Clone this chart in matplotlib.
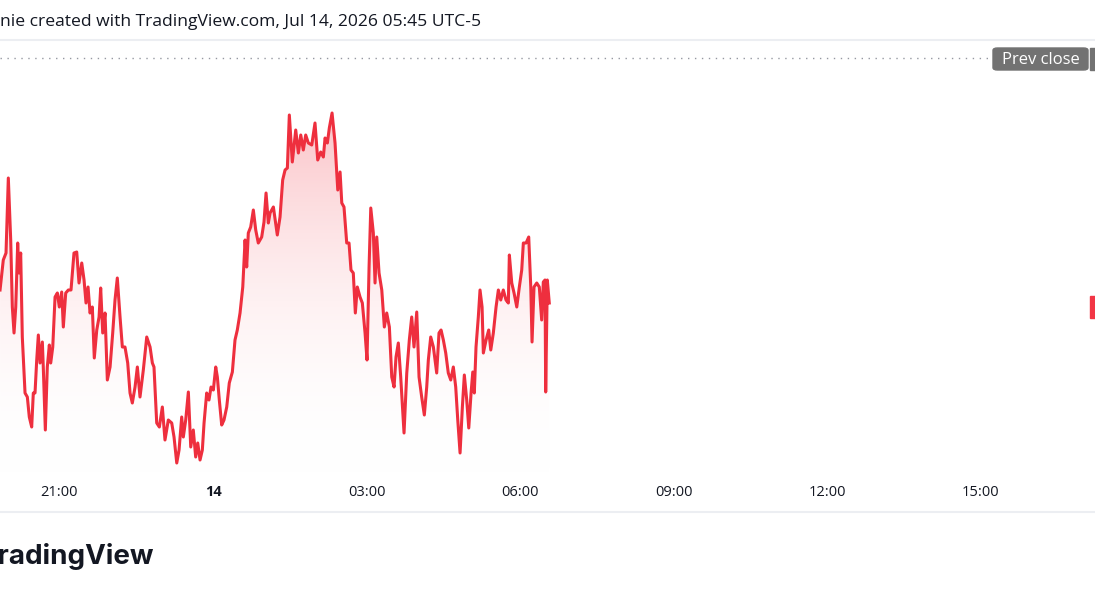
import numpy as np
import matplotlib.pyplot as plt
from matplotlib.patches import Rectangle, FancyBboxPatch
from matplotlib.lines import Line2D
from matplotlib.colors import LinearSegmentedColormap
from matplotlib.transforms import blended_transform_factory

# minutes after 13 Jul 20:00, price in points
minutes = [-9.7, -5.9, -2.7, 0, 2.8, 4.7, 6.7, 8.7, 11.0, 12.5, 14.5, 16.4, 19.6, 22.3, 24.6, 27.4,
           29.3, 31.3, 33.3, 35.2, 37.2, 39.9, 41.0, 43.4, 45.7, 48.1, 49.7, 52.1, 54.8, 57.5, 59.8,
           62.6, 64.5, 67.3, 70.4, 73.5, 77.0, 80.2, 82.9, 86.1, 88.8, 91.1, 93.5, 95.8, 98.5, 100.8,
           103.7, 106.4, 108.3, 110.7, 113.4, 116.1, 119.3, 122.4, 125.1, 127.8, 131.0, 133.7, 136.8,
           140.0, 142.7, 145.4, 148.6, 151.3, 154.4, 158.3, 162.3, 166.2, 168.9, 170.8, 174.0, 177.1,
           180.6, 183.7, 187.6, 191.6, 194.3, 197.5, 200.2, 203.3, 205.2, 208.0, 211.1, 213.9, 216.9,
           219.7, 222.1, 224.8, 227.5, 229.5, 232.6, 235.3, 237.7, 240.4, 243.2, 245.1, 247.4, 250.2,
           252.9, 256.1, 259.1, 262.7, 265.8, 268.5, 271.7, 274.9, 277.6, 279.5, 281.4, 284.2, 287.3,
           290.1, 293.1, 297.1, 299.8, 302.2, 304.9, 306.9, 310.8, 315.4, 318.6, 321.7, 324.5, 327.2,
           329.5, 333.0, 337.0, 340.1, 342.9, 345.9, 348.7, 351.8, 355.8, 359.6, 362.8, 366.3, 369.4,
           371.4, 374.1, 376.4, 379.6, 383.1, 386.3, 389.0, 391.0, 393.6, 396.8, 399.5, 401.8, 404.5,
           406.9, 409.2, 412.4, 415.1, 418.3, 420.6, 423.0, 425.0, 428.0, 430.0, 432.0, 434.7, 437.9,
           440.9, 443.7, 446.8, 449.6, 452.3, 454.6, 457.3, 460.1, 464.0, 467.2, 470.2, 473.0, 475.7,
           478.9, 481.6, 484.7, 487.8, 490.6, 492.5, 495.3, 498.4, 502.3, 505.0, 507.4, 510.1, 512.9,
           515.9, 518.8, 521.8, 524.6, 527.0, 529.7, 532.4, 534.7, 537.5, 539.9, 542.6, 544.6, 546.4,
           548.4, 551.1, 553.1, 555.5, 557.0, 560.2, 563.3, 565.7, 568.7, 571.9, 574.6, 577.4, 580.4,
           583.6, 586.3, 587.5, 590.3, 593.0, 596.2, 599.2, 602.0, 603.9, 607.1, 610.2, 612.6, 614.1,
           616.4, 619.6, 622.6, 625.4, 627.3, 629.3, 630.1, 632.0, 634.3]
price = [180, 210, 217, 292, 230, 163, 137, 163, 227, 197, 217, 133, 77, 73, 53, 43,
         77, 77, 110, 135, 107, 128, 103, 40, 103, 125, 107, 123, 173, 177, 163,
         178, 143, 177, 180, 180, 217, 218, 187, 207, 190, 167, 183, 157, 163, 112,
         140, 153, 182, 137, 157, 90, 103, 137, 170, 192, 153, 123, 123,
         107, 77, 67, 83, 103, 73, 100, 133, 123, 107, 103, 47, 43,
         63, 30, 50, 47, 33, 7, 20, 53, 33, 50, 78, 23, 40,
         13, 27, 10, 20, 47, 77, 70, 83, 80, 103, 93, 70, 45,
         50, 63, 87, 98, 130, 140, 157, 183, 230, 203, 237, 243, 260,
         240, 227, 233, 248, 277, 247, 257, 263, 235, 253, 290, 300, 302,
         355, 308, 340, 317, 335, 320, 335, 327, 325, 347, 310, 318, 313,
         332, 327, 342, 357, 327, 280, 298, 267, 263, 227, 227, 200, 197,
         157, 183, 173, 167, 137, 110, 203, 262, 237, 187, 233, 197, 180,
         143, 157, 143, 93, 83, 113, 127, 93, 37, 97, 130, 153, 123,
         158, 93, 73, 55, 83, 110, 133, 123, 97, 137, 140, 130, 117,
         97, 90, 103, 83, 50, 17, 63, 95, 70, 42, 77, 98, 77,
         123, 153, 180, 163, 117, 130, 140, 120, 137, 163, 180, 170, 180,
         170, 167, 215, 187, 177, 163, 183, 200, 227, 227, 233, 183, 128,
         183, 187, 183, 150, 188, 190, 78, 190, 167]
prev_close = 412
last_price = 163

tick_hours = [-3, 0, 3, 6, 9, 12, 15]
tick_labels = ['21:00', '14', '03:00', '06:00', '09:00', '12:00', '15:00']
header = 'nie created with TradingView.com, Jul 14, 2026 05:45 UTC-5'

W, H = 1095, 600
red = '#F23645'
txt = '#131722'

fig = plt.figure(figsize=(W / 100, H / 100), dpi=100)
ax = fig.add_axes([0, 88 / H, 1, 472 / H])
ax.set_axis_off()

hours = np.array(minutes) / 60 - 4
price = np.array(price)

# gradient area under the line
base = -8
poly = ax.fill_between(hours, price, base, color='none', lw=0)
grad = np.linspace(0, 1, 256).reshape(-1, 1)
cmap = LinearSegmentedColormap.from_list('g', [(1, 1, 1, 0), (242 / 255, 54 / 255, 69 / 255, 0.30)])
img = ax.imshow(grad, cmap=cmap, aspect='auto', origin='lower', zorder=1,
                extent=[hours[0], hours[-1], base, price.max()])
img.set_clip_path(poly.get_paths()[0], transform=ax.transData)

ax.plot(hours, price, color='#ee2f3e', lw=2.2, zorder=3, solid_joinstyle='round')

ax.set_xlim(-213 / 51.17, (W - 213) / 51.17)
ax.set_ylim(-42, 430)

# prev close dotted line
ax.axhline(prev_close, xmin=0, xmax=990 / W, color='#9598a1', lw=1, ls=(0, (1, 4)))

# time labels
for h, lab in zip(tick_hours, tick_labels):
    ax.text(h, -22, lab, ha='center', va='center', fontsize=10.5, color=txt,
            fontweight='bold' if lab == '14' else 'normal', family='Open Sans')

# last price marker (cut at right edge)
bt = blended_transform_factory(ax.transAxes, ax.transData)
ax.add_patch(Rectangle((1090 / W, last_price - 11), 0.01, 22, transform=bt,
                       color=red, clip_on=False, zorder=4))

# prev close label
fig.patches.append(FancyBboxPatch((993 / W, 1 - 70 / H), 95 / W, 22 / H, transform=fig.transFigure,
                                  boxstyle='round,pad=0,rounding_size=0.004', color='#727272', zorder=5))
fig.patches.append(Rectangle((1090 / W, 1 - 70 / H), 10 / W, 22 / H, transform=fig.transFigure,
                             color='#727272', zorder=5))
fig.text(1041 / W, 1 - 59.5 / H, 'Prev close', ha='center', va='center', color='white',
         fontsize=12, family='Open Sans', zorder=6)

# header and separators
fig.text(0, 1 - 22 / H, header, ha='left', va='center', fontsize=12.6, color=txt, family='Open Sans')
fig.add_artist(Line2D([0, 1], [1 - 40 / H] * 2, color='#eceef2', lw=1.5))
fig.add_artist(Line2D([0, 1], [1 - 512 / H] * 2, color='#eceef2', lw=1.5))

# logo
fig.text(153 / W, 1 - 556 / H, 'TradingView', ha='right', va='center', fontsize=20,
         fontweight='bold', color=txt, family='Inter')

fig.savefig('out.png', dpi=100)
